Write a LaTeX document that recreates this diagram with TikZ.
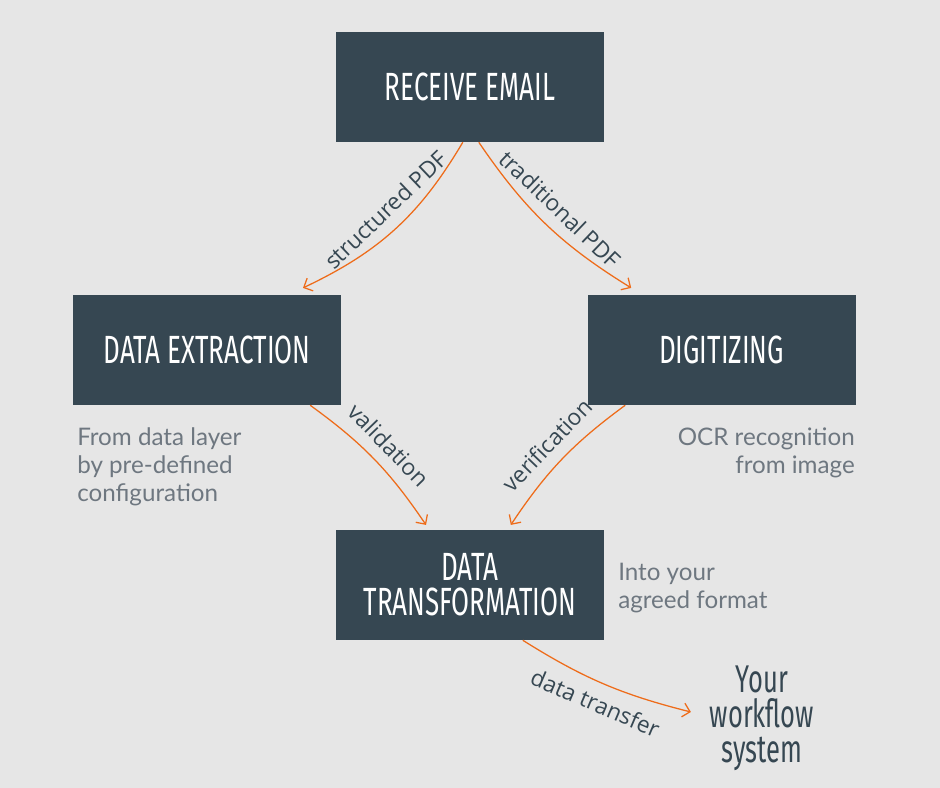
\documentclass[tikz,border=0pt]{standalone}
\usepackage{fontspec}
\usetikzlibrary{arrows.meta}
\setmainfont{Lato}
\newfontfamily\headfont[FakeStretch=0.66]{Fira Sans}
\newfontfamily\arcfont{Open Sans}
\definecolor{bg}{HTML}{E6E6E6}
\definecolor{slate}{HTML}{364752}
\definecolor{flow}{HTML}{EE6C1A}
\definecolor{notegrey}{HTML}{6E7780}

\begin{document}
\begin{tikzpicture}[
    stage/.style={fill=slate,minimum width=6.7cm,minimum height=2.75cm,inner sep=0,
      text=white,align=center,font=\headfont\fontsize{28}{25}\selectfont},
    flowline/.style={draw=flow,line width=0.9pt,-{Straight Barb[length=5pt,width=10pt]}},
    flowlabel/.style={font=\arcfont\fontsize{16.2}{18}\selectfont,text=slate,sloped,inner sep=8pt},
    remark/.style={font=\fontsize{17.2}{19.9}\selectfont,text=notegrey,inner sep=0}]
    \fill[bg] (0,0) rectangle (23.5,19.7);

    \node[stage] (receive) at (11.75,17.525) {RECEIVE EMAIL};

    \node[stage] (extraction) at (5.175,10.95) {DATA EXTRACTION};
    \node[stage] (digitizing) at (18.04,10.95) {DIGITIZING};

    \node[stage] (transformation) at (11.75,5.075) {DATA\\TRANSFORMATION};

    \node[remark,anchor=north west,align=left] (extractnote) at (1.925,9.02) {From data layer\\by pre-defined\\configuration};
    \node[remark,anchor=north east,align=right] (digitnote) at (21.375,9.02) {OCR recognition\\from image};
    \node[remark,anchor=north west,align=left] (formatnote) at (15.45,5.62) {Into your\\agreed format};

    \node[text=slate,align=center,font=\headfont\fontsize{27.5}{25}\selectfont] (workflow) at (19.05,1.75) {Your\\workflow\\system};

    \draw[flowline] ([xshift=-0.18cm]receive.south) to[bend left=17]
        node[flowlabel,above,pos=0.47] {structured PDF} ([xshift=2.4cm,yshift=0.17cm]extraction.north);
    \draw[flowline] ([xshift=0.22cm]receive.south) to[bend right=12]
        node[flowlabel,above] {traditional PDF} ([xshift=-2.26cm,yshift=0.17cm]digitizing.north);
    \draw[flowline] ([xshift=2.58cm]extraction.south) to[bend left=10]
        node[flowlabel,above] {validation} ([xshift=-1.1cm,yshift=0.12cm]transformation.north);
    \draw[flowline] ([xshift=-2.41cm]digitizing.south) to[bend right=10]
        node[flowlabel,above] {verification} ([xshift=1.02cm,yshift=0.12cm]transformation.north);
    \draw[flowline] ([xshift=1.32cm]transformation.south) to[bend right=9]
        node[flowlabel,below] {data transfer} ([xshift=-0.35cm,yshift=0.15cm]workflow.west);
\end{tikzpicture}
\end{document}
